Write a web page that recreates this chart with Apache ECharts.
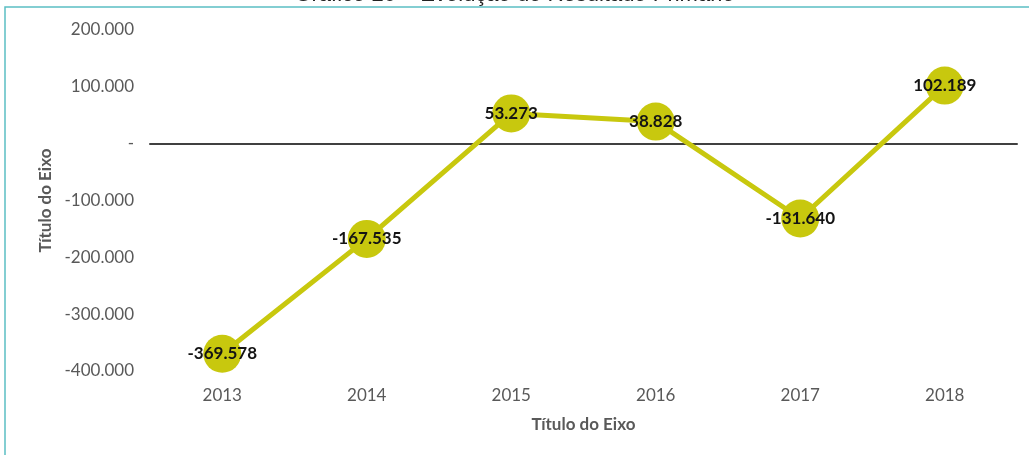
<!DOCTYPE html>
<html>
<head>
<meta charset="utf-8">
<script src="https://cdn.jsdelivr.net/npm/echarts@6/dist/echarts.min.js"></script>
<style>
html,body{margin:0;padding:0;background:#fff;}
#c{width:1029px;height:455px;}
</style>
</head>
<body>
<div id="c"></div>
<script>
const categories = ['2013', '2014', '2015', '2016', '2017', '2018'];
const resultado = [-369578, -167535, 53273, 38828, -131640, 102189];
const yTicks = { min: -400000, max: 200000, interval: 100000 };
const titleText = 'Gráfico 20 – Evolução do Resultado Primário';
const axisTitle = 'Título do Eixo';

function fmt(v) {
  if (v === 0) return '-';
  const neg = v < 0;
  const s = Math.abs(Math.round(v)).toString().replace(/\B(?=(\d{3})+(?!\d))/g, '.');
  return (neg ? '-' : '') + s;
}

const chart = echarts.init(document.getElementById('c'), null, { renderer: 'canvas' });
const FONT = 'Lato, "Open Sans", sans-serif';
chart.setOption({
  backgroundColor: '#ffffff',
  animation: false,
  title: {
    text: titleText,
    left: 'center',
    top: -16,
    padding: 0,
    textStyle: { fontFamily: 'Liberation Sans, Arial, sans-serif', fontSize: 22, fontWeight: 'normal', color: '#222' }
  },
  graphic: [{
    type: 'rect',
    shape: { x: 5, y: 7, width: 1060, height: 470 },
    style: { fill: 'none', stroke: '#5bbfc4', lineWidth: 1.5 },
    z: -1
  }],
  grid: { left: 150, right: 12, top: 30, bottom: 84, containLabel: false },
  xAxis: [{
    type: 'category',
    data: categories,
    position: 'bottom',
    axisLine: { show: true, onZero: true, lineStyle: { color: '#404040', width: 2 } },
    axisTick: { show: false },
    axisLabel: { show: false },
    splitLine: { show: false }
  }, {
    type: 'category',
    data: categories,
    position: 'bottom',
    axisLine: { show: false, onZero: false },
    axisTick: { show: false },
    axisLabel: { show: true, margin: 16, color: '#595959', fontSize: 17, fontFamily: FONT },
    name: axisTitle,
    nameLocation: 'middle',
    nameGap: 45,
    nameTextStyle: { color: '#595959', fontSize: 17, fontWeight: 'bold', fontFamily: FONT }
  }],
  yAxis: {
    type: 'value',
    min: yTicks.min,
    max: yTicks.max,
    interval: yTicks.interval,
    axisLine: { show: false },
    axisTick: { show: false },
    splitLine: { show: false },
    axisLabel: { margin: 16, color: '#595959', fontSize: 17, fontFamily: FONT, formatter: fmt },
    name: axisTitle,
    nameLocation: 'middle',
    nameGap: 94,
    nameRotate: 90,
    nameTextStyle: { color: '#595959', fontSize: 17, fontWeight: 'bold', fontFamily: FONT }
  },
  series: [{
    type: 'line',
    xAxisIndex: 0,
    data: resultado,
    symbol: 'circle',
    symbolSize: 38,
    itemStyle: { color: '#c8c80e' },
    lineStyle: { color: '#c8c80e', width: 5 },
    label: {
      show: true,
      position: 'inside',
      color: '#141414',
      fontSize: 17,
      fontWeight: 'bold',
      fontFamily: FONT,
      formatter: p => fmt(p.value)
    },
    z: 3
  }]
});
</script>
</body>
</html>
